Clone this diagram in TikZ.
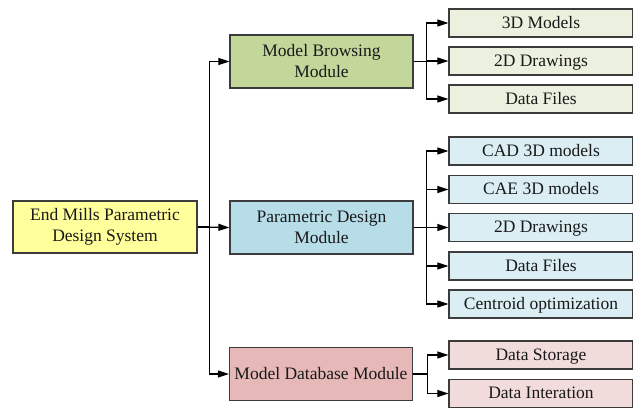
\documentclass[tikz,border=0pt]{standalone}
\usepackage{fontspec}
\setmainfont{Liberation Serif}
\usetikzlibrary{arrows.meta}
\definecolor{rootfill}{HTML}{FFFF9C}
\definecolor{greenmod}{HTML}{C4D79B}
\definecolor{greenleaf}{HTML}{EBF1DE}
\definecolor{bluemod}{HTML}{B7DDE8}
\definecolor{blueleaf}{HTML}{DAEEF3}
\definecolor{redmod}{HTML}{E6B8B7}
\definecolor{redleaf}{HTML}{F2DCDB}
\definecolor{edge}{HTML}{3C3C3C}
\tikzset{
  box/.style={draw=edge, line width=1.3pt, rectangle, align=center, text=black!90,
    font=\fontsize{17.5}{21}\selectfont, inner sep=0pt},
  oneline/.style={text height=13.5pt, text depth=3pt},
  rootbox/.style={box, fill=rootfill, minimum width=184pt, minimum height=52pt},
  modbox/.style={box, minimum width=183pt, minimum height=53pt},
  leafbox/.style={box, oneline, minimum width=184pt, minimum height=28pt},
  arr/.style={draw=black, line width=1.2pt, -{Triangle[length=11pt,width=7pt]}}
}
\begin{document}
\begin{tikzpicture}[x=1pt,y=-1pt]
\useasboundingbox (0,0) rectangle (633,409);

% root and the three modules
\node[rootbox] (root) at (105,227) {End Mills Parametric\\Design System};
\node[modbox, fill=greenmod] (mb) at (321.5,61.5) {Model Browsing\\Module};
\node[modbox, fill=bluemod]  (pd) at (321.5,227.5) {Parametric Design\\Module};
\node[modbox, oneline, fill=redmod] (db) at (321,374) {Model Database Module};

% leaves of the browsing module
\node[leafbox, fill=greenleaf] (b1) at (541,23) {3D Models};
\node[leafbox, fill=greenleaf] (b2) at (541,61) {2D Drawings};
\node[leafbox, fill=greenleaf] (b3) at (541,99) {Data Files};

% leaves of the design module
\node[leafbox, fill=blueleaf] (p1) at (541,151) {CAD 3D models};
\node[leafbox, fill=blueleaf] (p2) at (541,189.5) {CAE 3D models};
\node[leafbox, fill=blueleaf] (p3) at (541,227.5) {2D Drawings};
\node[leafbox, fill=blueleaf] (p4) at (541,266) {Data Files};
\node[leafbox, fill=blueleaf] (p5) at (541,304) {Centroid optimization};

% leaves of the database module
\node[leafbox, fill=redleaf] (d1) at (541,355) {Data Storage};
\node[leafbox, fill=redleaf] (d2) at (541,393.5) {Data Interation};

% trunk from the root to the modules
\draw[arr] (root.east) -- (pd.west);
\draw[arr] (root.east) -- ++(12,0) |- (mb.west);
\draw[arr] (root.east) -- ++(12,0) |- (db.west);

% branches from the modules to their leaves
\foreach \n in {b1,b2,b3} \draw[arr] (mb.east) -- ++(13,0) |- (\n.west);
\foreach \n in {p1,p2,p3,p4,p5} \draw[arr] (pd.east) -- ++(13,0) |- (\n.west);
\foreach \n in {d1,d2} \draw[arr] (db.east) -- ++(14,0) |- (\n.west);
\end{tikzpicture}
\end{document}
